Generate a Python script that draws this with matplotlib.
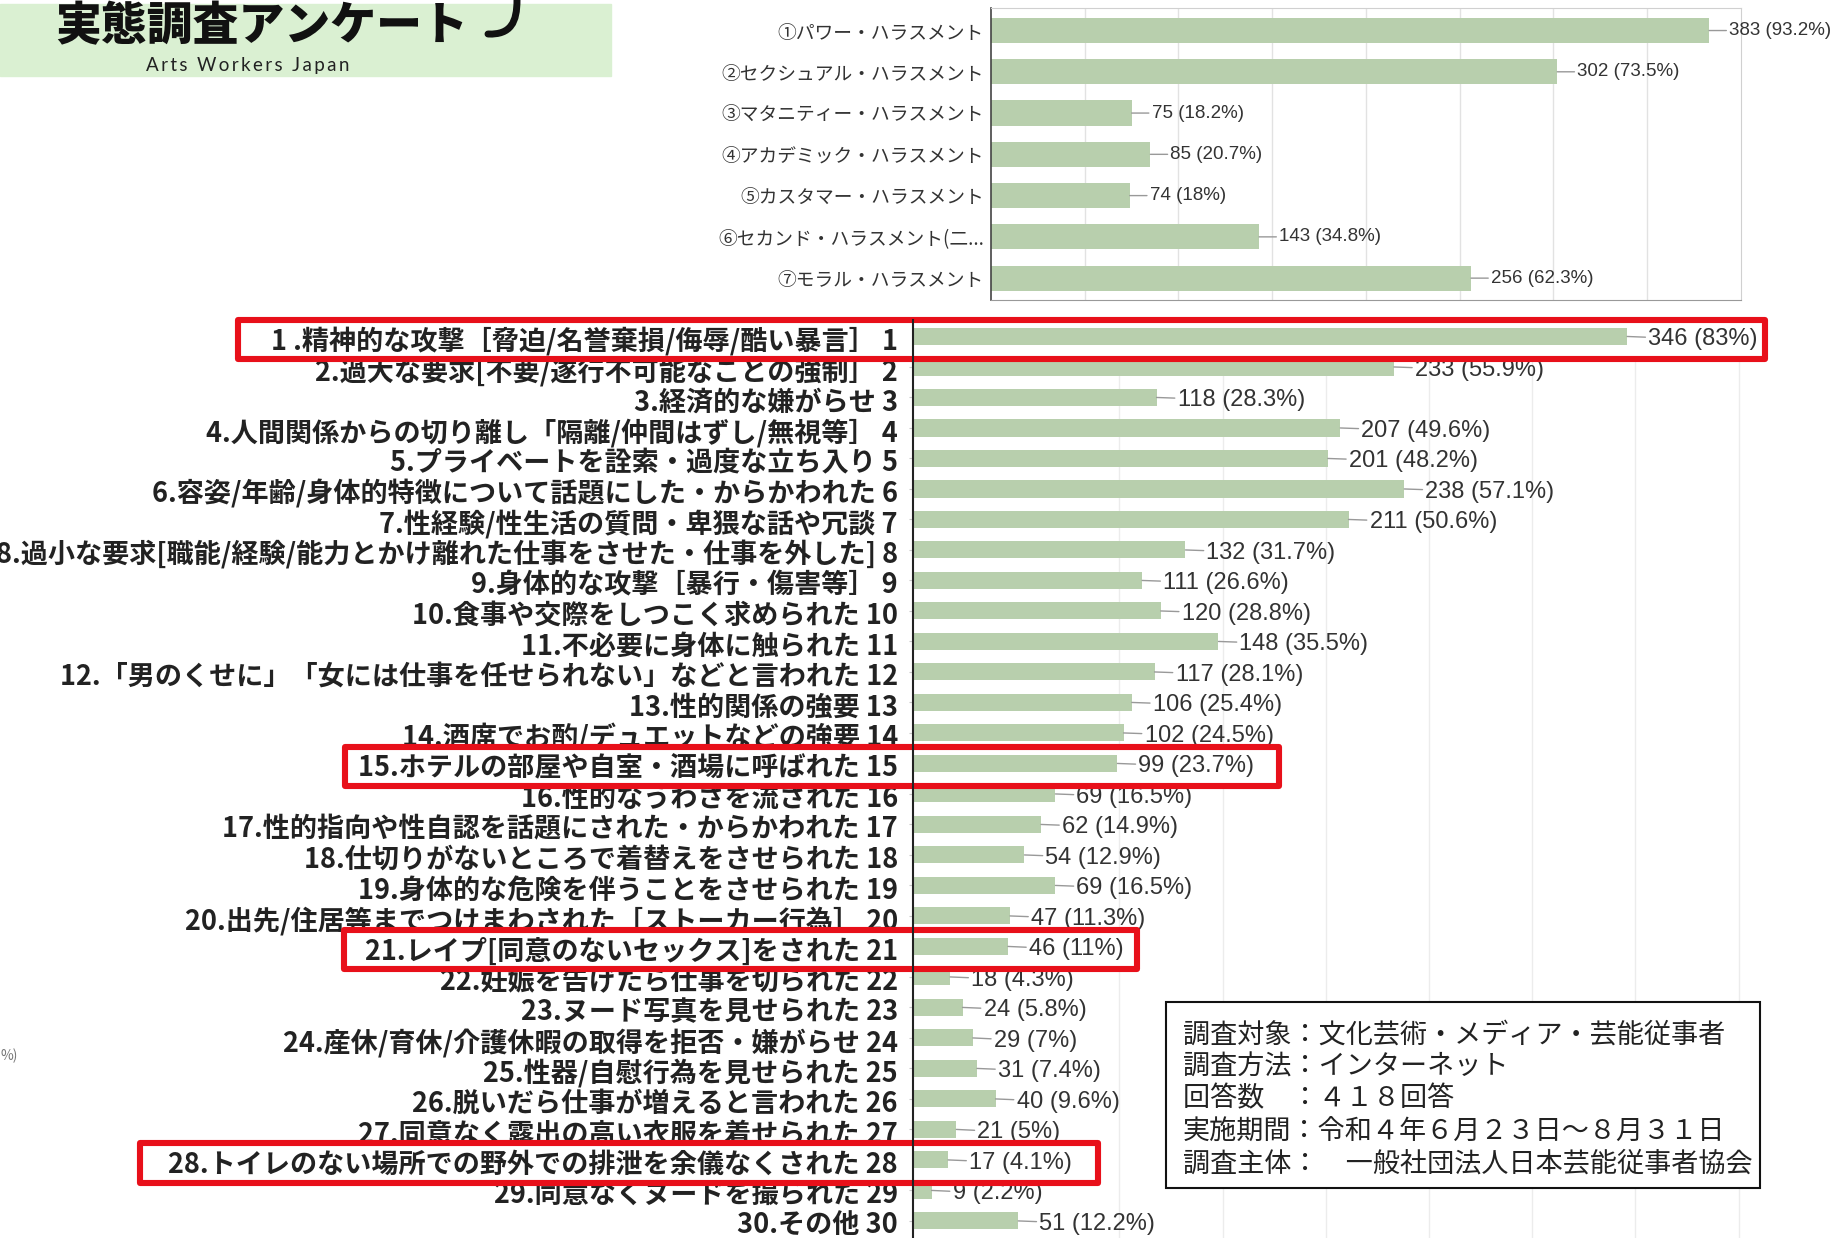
import matplotlib
matplotlib.use('Agg')
import matplotlib.pyplot as plt
from matplotlib.patches import Rectangle, PathPatch
from matplotlib.path import Path
from matplotlib.transforms import offset_copy, blended_transform_factory, IdentityTransform

# 上のグラフ：ハラスメントの種類
top_labels = ['①パワー・ハラスメント', '②セクシュアル・ハラスメント', '③マタニティー・ハラスメント',
              '④アカデミック・ハラスメント', '⑤カスタマー・ハラスメント', '⑥セカンド・ハラスメント(二...',
              '⑦モラル・ハラスメント']
top_counts = [383, 302, 75, 85, 74, 143, 256]
top_pcts = [93.2, 73.5, 18.2, 20.7, 18, 34.8, 62.3]

# 下のグラフ：受けた被害の内容
main_labels = [
    '1 .精神的な攻撃［脅迫/名誉棄損/侮辱/酷い暴言］ 1',
    '2.過大な要求[不要/遂行不可能なことの強制］ 2',
    '3.経済的な嫌がらせ 3',
    '4.人間関係からの切り離し「隔離/仲間はずし/無視等］ 4',
    '5.プライベートを詮索・過度な立ち入り 5',
    '6.容姿/年齢/身体的特徴について話題にした・からかわれた 6',
    '7.性経験/性生活の質問・卑猥な話や冗談 7',
    '8.過小な要求[職能/経験/能力とかけ離れた仕事をさせた・仕事を外した] 8',
    '9.身体的な攻撃［暴行・傷害等］ 9',
    '10.食事や交際をしつこく求められた 10',
    '11.不必要に身体に触られた 11',
    '12.「男のくせに」「女には仕事を任せられない」などと言われた 12',
    '13.性的関係の強要 13',
    '14.酒席でお酌/デュエットなどの強要 14',
    '15.ホテルの部屋や自室・酒場に呼ばれた 15',
    '16.性的なうわさを流された 16',
    '17.性的指向や性自認を話題にされた・からかわれた 17',
    '18.仕切りがないところで着替えをさせられた 18',
    '19.身体的な危険を伴うことをさせられた 19',
    '20.出先/住居等までつけまわされた［ストーカー行為］ 20',
    '21.レイプ[同意のないセックス]をされた 21',
    '22.妊娠を告げたら仕事を切られた 22',
    '23.ヌード写真を見せられた 23',
    '24.産休/育休/介護休暇の取得を拒否・嫌がらせ 24',
    '25.性器/自慰行為を見せられた 25',
    '26.脱いだら仕事が増えると言われた 26',
    '27.同意なく露出の高い衣服を着せられた 27',
    '28.トイレのない場所での野外での排泄を余儀なくされた 28',
    '29.同意なくヌードを撮られた 29',
    '30.その他 30',
]
main_counts = [346, 233, 118, 207, 201, 238, 211, 132, 111, 120, 148, 117, 106, 102, 99,
               69, 62, 54, 69, 47, 46, 18, 24, 29, 31, 40, 21, 17, 9, 51]
main_pcts = [83, 55.9, 28.3, 49.6, 48.2, 57.1, 50.6, 31.7, 26.6, 28.8, 35.5, 28.1, 25.4, 24.5, 23.7,
             16.5, 14.9, 12.9, 16.5, 11.3, 11, 4.3, 5.8, 7, 7.4, 9.6, 5, 4.1, 2.2, 12.2]

# 赤枠で強調する項目
highlight = [1, 15, 21, 28]

info_lines = ['調査対象：文化芸術・メディア・芸能従事者',
              '調査方法：インターネット',
              '回答数　：４１８回答',
              '実施期間：令和４年６月２３日～８月３１日',
              '調査主体：　一般社団法人日本芸能従事者協会']

JP = ['Noto Sans CJK JP', 'DejaVu Sans']
BAR = '#b8cfad'
W, H = 1833, 1238

plt.rcParams['font.family'] = JP
fig = plt.figure(figsize=(W / 100, H / 100), dpi=100)


def box(x0, y0, x1, y1):
    # ピクセル座標(左上原点) -> figure座標
    return [x0 / W, 1 - y1 / H, (x1 - x0) / W, (y1 - y0) / H]


# タイトル帯
fig.patches.append(Rectangle((0, 1 - 76 / H), 611 / W, 72 / H, transform=fig.transFigure,
                             color='#daf0d2', zorder=0))
fig.text(55 / W, 1 - 27 / H, '実態調査アンケート', fontsize=33, weight=900,
         color='#111', va='center', ha='left')
hook = [(517, 0), (517, 22), (511, 35), (488, 34)]
hook = [(x / W, 1 - y / H) for x, y in hook]
fig.patches.append(PathPatch(Path(hook, [Path.MOVETO, Path.CURVE4, Path.CURVE4, Path.CURVE4]),
                             transform=fig.transFigure, fill=False, lw=5, color='#111',
                             capstyle='round'))
fig.text(248 / W, 1 - 66 / H, '\u2009'.join('Arts Workers Japan'), fontsize=13.5,
         family=['Lato', 'DejaVu Sans'], color='#222', ha='center', va='center')
fig.text(1 / W, 1 - 1056 / H, '%)', fontsize=10, color='#777', ha='left', va='center')

# ---- 上のグラフ ----
ax1 = fig.add_axes(box(991, 8, 1741, 300))
y1 = list(range(len(top_labels)))
ax1.barh(y1, top_counts, height=0.61, color=BAR, zorder=2)
ax1.set_xlim(0, 400)
ax1.set_ylim(6.53, -0.546)
ax1.set_yticks(y1)
ax1.set_yticklabels(top_labels, fontsize=13.5, color='#333')
ax1.set_xticks(range(50, 400, 50))
ax1.set_xticklabels([])
ax1.tick_params(length=0, pad=5)
ax1.grid(axis='x', color='#e2e2e2', lw=1)
ax1.set_axisbelow(True)
ax1.spines['left'].set_color('#444')
ax1.spines['left'].set_linewidth(1.2)
ax1.spines['bottom'].set_color('#999')
ax1.spines['top'].set_color('#d0d0d0')
ax1.spines['right'].set_color('#d0d0d0')
for i, (c, p) in enumerate(zip(top_counts, top_pcts)):
    ax1.annotate(f'{c} ({p:g}%)', xy=(c, i), xytext=(20, 0), textcoords='offset pixels',
                 ha='left', va='center', fontsize=13.5, color='#333',
                 family=['Liberation Sans', 'DejaVu Sans'],
                 arrowprops=dict(arrowstyle='-', color='#999', lw=1, shrinkA=0, shrinkB=0),
                 annotation_clip=False)

# ---- 下のグラフ ----
ax2 = fig.add_axes(box(913, 320, 1833, 1238))
y2 = list(range(len(main_labels)))
ax2.barh(y2, main_counts, height=0.56, color=BAR, zorder=2)
hl_idx = [r - 1 for r in highlight]
ax2.barh(hl_idx, [main_counts[i] for i in hl_idx], height=0.56, color=BAR, zorder=5)
ax2.set_xlim(0, 445.7)
ax2.set_ylim(29.56, -0.54)
ax2.set_xticks(range(100, 401, 50))
ax2.set_xticklabels([])
ax2.set_yticks(y2)
ax2.set_yticklabels([])
ax2.tick_params(axis='x', length=0)
ax2.tick_params(axis='y', length=3, color='#c8c8c8')
ax2.grid(axis='x', color='#ececec', lw=1)
ax2.set_axisbelow(True)
for s in ['top', 'right', 'bottom']:
    ax2.spines[s].set_visible(False)
ax2.spines['left'].set_color('#222')
ax2.spines['left'].set_linewidth(1.5)
ax2.spines['left'].set_zorder(6)

lab_tr = offset_copy(ax2.transData, fig=fig, x=-15, y=-5, units='dots')
for i, (lab, c, p) in enumerate(zip(main_labels, main_counts, main_pcts)):
    z = 5 if i in hl_idx else 3
    ax2.text(0, i, lab, transform=lab_tr, ha='right', va='center', fontsize=19.5,
             weight='bold', color='#222', zorder=z, clip_on=False)
    ax2.annotate(f'{c} ({p:g}%)', xy=(c, i), xytext=(21, -3), textcoords='offset pixels',
                 ha='left', va='center', fontsize=17, color='#333', zorder=z,
                 family=['Liberation Sans', 'DejaVu Sans'],
                 arrowprops=dict(arrowstyle='-', color='#999', lw=1, shrinkA=0, shrinkB=0),
                 annotation_clip=False)

# 赤枠（白地で前後の行を隠す）
box_x = [(238, 1765), (345, 1279), (344, 1137), (140, 1098)]
bt = blended_transform_factory(IdentityTransform(), ax2.transData)
for r, (x0, x1) in zip(highlight, box_x):
    ax2.add_patch(Rectangle((x0, r - 1 - 0.54), x1 - x0, 1.29, transform=bt,
                            facecolor='white', edgecolor='#e8101a', lw=4.4,
                            joinstyle='round', zorder=4, clip_on=False))

# 調査概要
fig.patches.append(Rectangle(box(1166, 1002, 1760, 1188)[:2], 594 / W, 186 / H,
                             transform=fig.transFigure, facecolor='white',
                             edgecolor='#111', lw=1.5, zorder=5))
for line, yy in zip(info_lines, [1035, 1067, 1099, 1132, 1164]):
    fig.text(1183 / W, 1 - yy / H, line, fontsize=19.5, color='#222', ha='left',
             va='center', zorder=6)

fig.savefig('out.png', dpi=100)
